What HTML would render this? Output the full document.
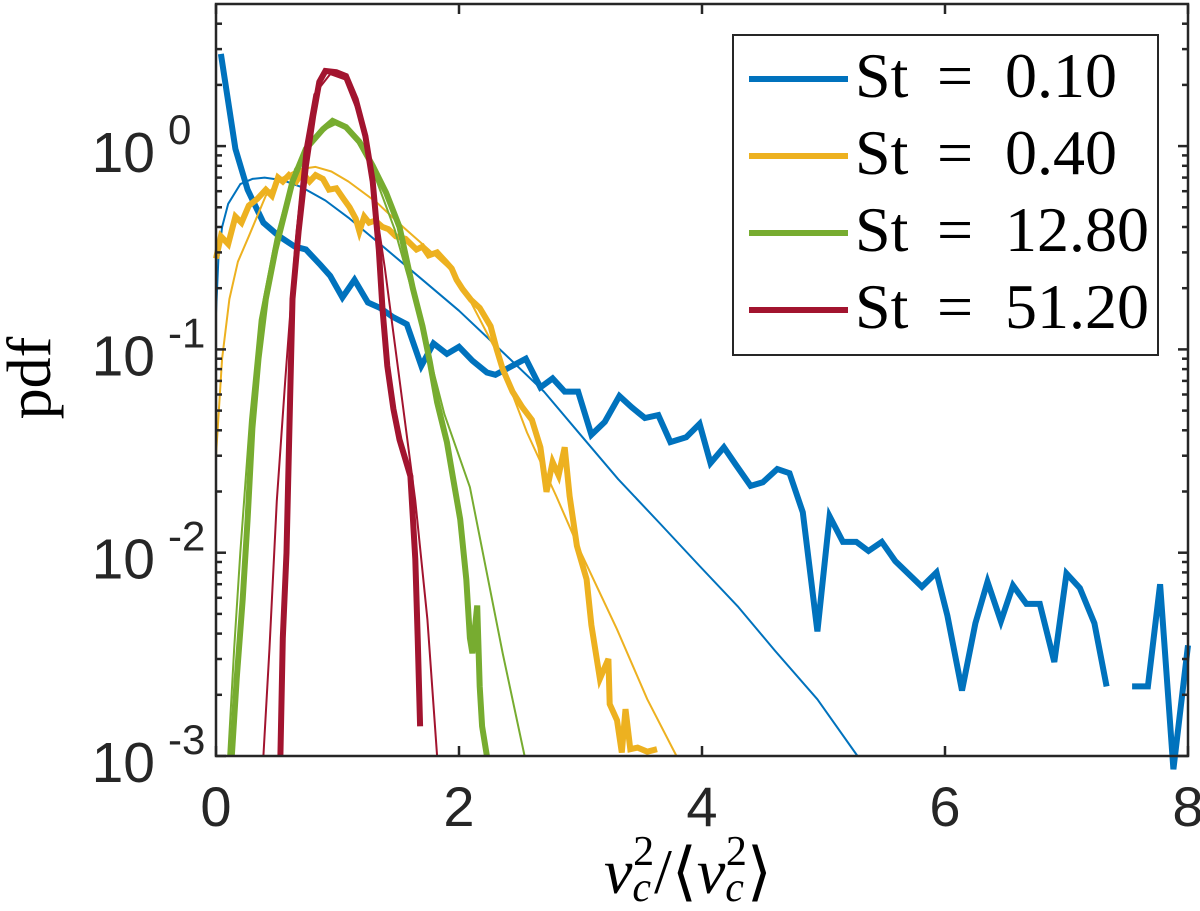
<!DOCTYPE html>
<html><head><meta charset="utf-8"><style>
html,body{margin:0;padding:0;background:#fff;}
svg{display:block;}
.tick{font-family:"Liberation Sans",Arial,sans-serif;fill:#262626;}
.serif{font-family:"Liberation Serif","DejaVu Serif",serif;fill:#000;}
</style></head><body>
<svg id="chart" width="1200" height="911" viewBox="0 0 1200 911" xmlns="http://www.w3.org/2000/svg">
<g id="plot"></g>
<g id="axes"></g>
<text class="serif" transform="translate(50,378) rotate(-90)" text-anchor="middle" font-size="62">pdf</text>
<text class="serif" x="604" y="893" font-size="64" font-style="italic">v<tspan font-size="42" dy="8" font-style="italic">c</tspan><tspan font-size="42" dx="-18" dy="-36" font-style="normal">2</tspan><tspan dy="28" font-style="normal">/⟨</tspan><tspan font-style="italic">v</tspan><tspan font-size="42" dy="8" font-style="italic">c</tspan><tspan font-size="42" dx="-18" dy="-36" font-style="normal">2</tspan><tspan dy="28" font-style="normal">⟩</tspan></text>
<g id="legend"></g>
</svg>
<script>
// ---- data ----
const blueX = [0.04,0.16,0.26,0.39,0.52,0.65,0.74,0.86,0.94,1.04,1.14,1.25,1.35,1.45,1.57,1.69,1.79,1.90,2.00,2.11,2.23,2.30,2.55,2.67,2.77,2.87,2.98,3.09,3.20,3.32,3.42,3.53,3.64,3.74,3.87,3.98,4.07,4.18,4.28,4.40,4.50,4.62,4.72,4.83,4.95,5.05,5.16,5.27,5.37,5.48,5.59,5.81,5.93,6.02,6.14,6.25,6.35,6.46,6.56,6.67,6.78,6.90,7.00,7.11,7.23,7.33,7.45,7.54,7.67,7.77,7.88,8.0];
const blueY = [2.84,0.97,0.61,0.42,0.36,0.32,0.31,0.26,0.23,0.18,0.22,0.17,0.16,0.145,0.133,0.083,0.107,0.095,0.103,0.088,0.077,0.075,0.090,0.065,0.072,0.062,0.062,0.038,0.044,0.059,0.052,0.046,0.0475,0.035,0.037,0.043,0.0276,0.033,0.027,0.0213,0.0222,0.0258,0.0246,0.0158,0.0041,0.0151,0.0113,0.0113,0.0102,0.0113,0.0091,0.0068,0.0080,0.0049,0.0021,0.0045,0.0072,0.0046,0.0069,0.0056,0.0056,0.0029,0.0079,0.0067,0.0045,0.0022,null,0.0022,0.0022,0.0070,0.00086,0.0035];
const blueFitX = [0.0,0.02,0.05,0.1,0.2,0.3,0.4,0.55,0.7,0.9,1.1,1.35,1.7,2.0,2.3,2.7,3.0,3.31,3.65,3.98,4.3,4.6,4.95,5.28];
const blueFitY = [0.15,0.28,0.40,0.52,0.65,0.69,0.70,0.68,0.63,0.54,0.44,0.33,0.22,0.155,0.105,0.062,0.038,0.023,0.014,0.0086,0.0054,0.0033,0.0019,0.001];
const yelX = [0.0,0.04,0.10,0.16,0.21,0.27,0.34,0.41,0.46,0.51,0.55,0.60,0.66,0.71,0.77,0.82,0.88,0.93,0.99,1.05,1.10,1.15,1.18,1.22,1.26,1.31,1.37,1.42,1.48,1.56,1.65,1.70,1.75,1.82,1.89,1.94,1.98,2.03,2.10,2.17,2.26,2.31,2.36,2.44,2.52,2.60,2.67,2.72,2.77,2.82,2.87,2.91,2.97,3.05,3.09,3.16,3.23,3.24,3.30,3.34,3.37,3.41,3.47,3.55,3.63];
const yelY = [0.28,0.36,0.33,0.45,0.42,0.51,0.55,0.61,0.57,0.70,0.67,0.72,0.67,0.74,0.67,0.72,0.69,0.61,0.62,0.55,0.50,0.44,0.38,0.45,0.42,0.43,0.40,0.39,0.36,0.35,0.31,0.32,0.29,0.30,0.27,0.25,0.22,0.198,0.175,0.16,0.130,0.100,0.080,0.062,0.052,0.045,0.033,0.0199,0.0279,0.024,0.033,0.019,0.0108,0.0074,0.0044,0.0024,0.0030,0.0018,0.0015,0.00104,0.0017,0.00108,0.0011,0.00105,0.00108];
const yelFitX = [0.0,0.05,0.11,0.18,0.27,0.41,0.55,0.68,0.82,0.95,1.09,1.32,1.54,1.75,1.92,2.1,2.3,2.56,2.8,3.0,3.3,3.55,3.79];
const yelFitY = [0.03,0.09,0.177,0.27,0.36,0.57,0.70,0.77,0.79,0.75,0.67,0.53,0.40,0.31,0.25,0.17,0.10,0.039,0.019,0.0101,0.0042,0.0019,0.001];
const grnX = [0.13,0.17,0.22,0.26,0.30,0.35,0.41,0.49,0.63,0.74,0.88,0.96,1.07,1.18,1.29,1.40,1.51,1.62,1.70,1.76,1.82,1.90,1.95,2.01,2.06,2.09,2.11,2.15,2.17,2.19,2.23];
const grnY = [0.001,0.0024,0.0059,0.0146,0.041,0.090,0.177,0.31,0.67,0.97,1.21,1.33,1.24,1.05,0.80,0.59,0.40,0.20,0.130,0.087,0.055,0.035,0.0235,0.0146,0.0074,0.0038,0.0032,0.0055,0.0022,0.0014,0.001];
const grnFitX = [0.10,0.15,0.20,0.28,0.36,0.49,0.65,0.86,0.98,1.10,1.27,1.47,1.68,1.88,2.09,2.36,2.54];
const grnFitY = [0.001,0.0034,0.01,0.045,0.14,0.35,0.77,1.18,1.28,1.21,0.82,0.39,0.14,0.048,0.021,0.0032,0.001];
const redX = [0.53,0.55,0.58,0.61,0.63,0.68,0.74,0.80,0.85,0.90,0.99,1.07,1.15,1.23,1.29,1.34,1.37,1.41,1.46,1.51,1.60,1.64,1.66,1.68];
const redY = [0.001,0.0038,0.01,0.057,0.177,0.38,0.80,1.41,2.07,2.34,2.31,2.21,1.70,1.12,0.67,0.31,0.158,0.083,0.051,0.036,0.0238,0.0093,0.0038,0.0014];
const redFitX = [0.39,0.44,0.50,0.57,0.65,0.73,0.81,0.94,1.06,1.19,1.28,1.39,1.51,1.64,1.74,1.82];
const redFitY = [0.001,0.0034,0.018,0.071,0.31,0.97,1.80,2.26,2.13,1.36,0.69,0.25,0.071,0.018,0.0047,0.001];
const legendValues = ["0.10","0.40","12.80","51.20"];
const xTicks = [0,2,4,6,8];
const yTickExp = [0,-1,-2,-3];

// ---- axes functions ----
const L=216,R=1188,T=4,B=756;
const xs = v => L + (v-0)/(8-0)*(R-L);
const dec = 203.3;
const ys = v => B - (Math.log10(v)+3)*dec;
const NS="http://www.w3.org/2000/svg";
function mk(tag, attrs, parent){const e=document.createElementNS(NS,tag);for(const k in attrs)e.setAttribute(k,attrs[k]);parent.appendChild(e);return e;}
const plot=document.getElementById('plot');
const axes=document.getElementById('axes');
const leg=document.getElementById('legend');

function pathD(X,Y){let d='',pen=false;for(let i=0;i<X.length;i++){if(Y[i]==null){pen=false;continue;}d+=(pen?'L':'M')+xs(X[i]).toFixed(1)+','+ys(Y[i]).toFixed(1);pen=true;}return d;}
const colors=["#0072BD","#EDB120","#77AC30","#A2142F"];
const series=[[blueX,blueY,blueFitX,blueFitY,'st-0-10'],[yelX,yelY,yelFitX,yelFitY,'st-0-40'],[grnX,grnY,grnFitX,grnFitY,'st-12-80'],[redX,redY,redFitX,redFitY,'st-51-20']];
series.forEach((s,i)=>{
  const p=mk('path',{d:pathD(s[0],s[1]),fill:'none',stroke:colors[i],'stroke-width':6,'stroke-linejoin':'miter','stroke-miterlimit':4},plot);
  
  
  const f=mk('path',{d:pathD(s[2],s[3]),fill:'none',stroke:colors[i],'stroke-width':2,'stroke-linejoin':'round'},plot);
  
  
});

const fr=mk('rect',{x:L,y:T,width:R-L,height:B-T,fill:'none',stroke:'#262626','stroke-width':2.5},axes);


xTicks.forEach(t=>{
  const x=xs(t);
  mk('line',{x1:x,y1:B,x2:x,y2:B-10,stroke:'#262626','stroke-width':2.5},axes);
  mk('line',{x1:x,y1:T,x2:x,y2:T+10,stroke:'#262626','stroke-width':2.5},axes);
  const tx=mk('text',{x:x,y:826,'text-anchor':'middle','font-size':56,class:'tick'},axes);
  tx.textContent=t;
  
  
});
for(let e=-3;e<=0;e++){
  for(let m=1;m<=9;m++){
    const v=m*Math.pow(10,e); const y=ys(v);
    if(y<T) continue;
    const len=m===1?10:6;
    mk('line',{x1:L,y1:y,x2:L+len,y2:y,stroke:'#262626','stroke-width':2.5},axes);
    mk('line',{x1:R,y1:y,x2:R-len,y2:y,stroke:'#262626','stroke-width':2.5},axes);
  }
}
yTickExp.forEach(e=>{
  const y=ys(Math.pow(10,e));
  const t=mk('text',{x:155,y:y+26,'text-anchor':'end','font-size':57,class:'tick'},axes);
  t.textContent='10';
  
  
  const s=mk('text',{x:168,y:y-2,'font-size':42,class:'tick'},axes);
  s.textContent=e===0?'0':String(e);
  
  
});

const box=mk('rect',{x:733,y:35,width:425,height:320,fill:'#fff',stroke:'#262626','stroke-width':2},leg);


legendValues.forEach((val,i)=>{
  const y=79+i*77;
  const ln=mk('line',{x1:749,y1:y,x2:848,y2:y,stroke:colors[i],'stroke-width':6},leg);
  
  
  const t=mk('text',{x:855,y:y+18,'font-size':64,class:'serif'},leg);
  
  
  const a=mk('tspan',{x:855},t); a.textContent='St';
  const b=mk('tspan',{x:937},t); b.textContent='=';
  const c=mk('tspan',{x:1005},t); c.textContent=val;
});
</script>
</body></html>
